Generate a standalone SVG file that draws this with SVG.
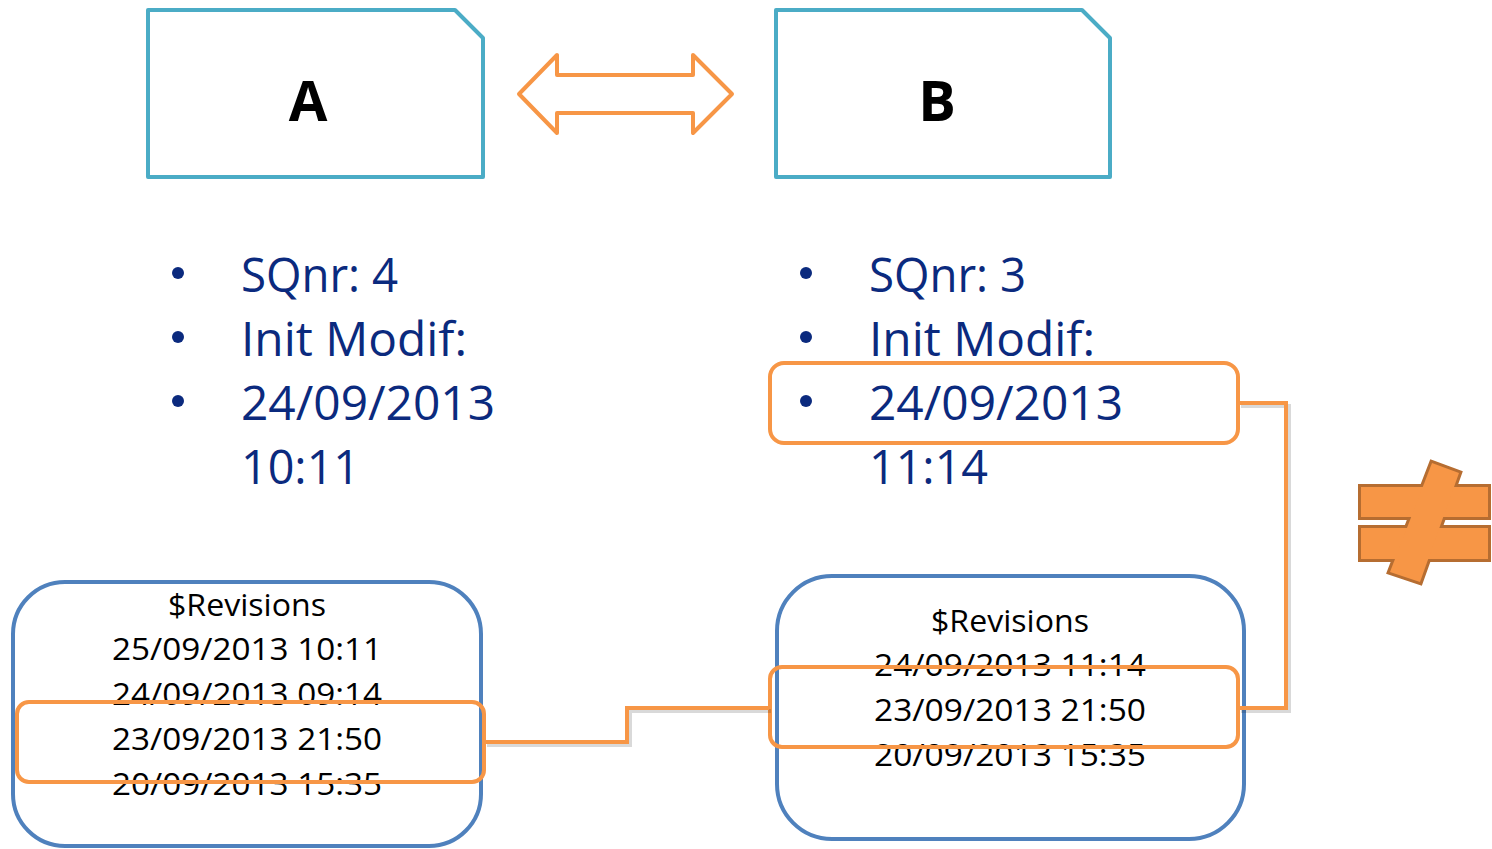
<svg xmlns="http://www.w3.org/2000/svg" width="1492" height="849" viewBox="0 0 1492 849">
<style>
.doc{fill:#fff;stroke:#4BACC6;stroke-width:4;stroke-linejoin:round}
.big{font-family:"Open Sans","Liberation Sans",sans-serif;font-weight:700;font-size:56px;fill:#000;text-anchor:middle}
.bl{font-family:"Open Sans","Liberation Sans",sans-serif;font-size:48px;fill:#0B2A7E}
.dot{fill:#0B2A7E}
.rev{fill:#fff;stroke:#4F81BD;stroke-width:4}
.rt{font-family:"Open Sans","Liberation Sans",sans-serif;font-size:31px;fill:#000;text-anchor:middle}
.hl{fill:none;stroke:#F79646;stroke-width:4}
.con{fill:none;stroke:#F79646;stroke-width:4}
.sh{fill:none;stroke:#000;stroke-opacity:0.15;stroke-width:4}
.ne-s{fill:#B66D31;stroke:#B66D31;stroke-width:6;stroke-linejoin:miter}
.ne-f{fill:#F79646}
</style>
<g id="nodeA">
<path class="doc" d="M148,10 H455 L483,38 V177 H148 Z"/>
<text class="big" x="308" y="121">A</text>
</g>
<g id="nodeB">
<path class="doc" d="M776,10 H1082 L1110,38 V177 H776 Z"/>
<text class="big" x="937" y="121">B</text>
</g>
<g id="biarrow">
<polygon points="519,94 557,55 557,75 693,75 693,55 732,94 693,133 693,113 557,113 557,133" fill="#fff" stroke="#F79646" stroke-width="4" stroke-linejoin="round"/>
</g>
<g id="listA">
<circle class="dot" cx="178" cy="273" r="6"/>
<circle class="dot" cx="178" cy="337" r="6"/>
<circle class="dot" cx="178" cy="401" r="6"/>
<text class="bl" x="241" y="292" textLength="157" lengthAdjust="spacingAndGlyphs">SQnr: 4</text>
<text class="bl" x="241" y="356" textLength="226" lengthAdjust="spacingAndGlyphs">Init Modif:</text>
<text class="bl" x="241" y="420" textLength="254" lengthAdjust="spacingAndGlyphs">24/09/2013</text>
<text class="bl" x="241" y="484" textLength="119" lengthAdjust="spacingAndGlyphs">10:11</text>
</g>
<g id="listB">
<circle class="dot" cx="806" cy="273" r="6"/>
<circle class="dot" cx="806" cy="337" r="6"/>
<circle class="dot" cx="806" cy="401" r="6"/>
<text class="bl" x="869" y="292" textLength="157" lengthAdjust="spacingAndGlyphs">SQnr: 3</text>
<text class="bl" x="869" y="356" textLength="226" lengthAdjust="spacingAndGlyphs">Init Modif:</text>
<text class="bl" x="869" y="420" textLength="254" lengthAdjust="spacingAndGlyphs">24/09/2013</text>
<text class="bl" x="869" y="484" textLength="119" lengthAdjust="spacingAndGlyphs">11:14</text>
</g>
<g id="revA">
<rect class="rev" x="13" y="582" width="468" height="264" rx="52"/>
<text class="rt" x="247" y="616" textLength="158" lengthAdjust="spacingAndGlyphs">$Revisions</text>
<text class="rt" x="247" y="660" textLength="270" lengthAdjust="spacingAndGlyphs">25/09/2013 10:11</text>
<text class="rt" x="247" y="705" textLength="270" lengthAdjust="spacingAndGlyphs">24/09/2013 09:14</text>
<text class="rt" x="247" y="750" textLength="270" lengthAdjust="spacingAndGlyphs">23/09/2013 21:50</text>
<text class="rt" x="247" y="795" textLength="270" lengthAdjust="spacingAndGlyphs">20/09/2013 15:35</text>
</g>
<g id="revB">
<rect class="rev" x="777" y="576" width="467" height="263" rx="55"/>
<text class="rt" x="1010" y="632" textLength="158" lengthAdjust="spacingAndGlyphs">$Revisions</text>
<text class="rt" x="1010" y="676" textLength="272" lengthAdjust="spacingAndGlyphs">24/09/2013 11:14</text>
<text class="rt" x="1010" y="721" textLength="272" lengthAdjust="spacingAndGlyphs">23/09/2013 21:50</text>
<text class="rt" x="1010" y="766" textLength="272" lengthAdjust="spacingAndGlyphs">20/09/2013 15:35</text>
</g>
<g id="highlights">
<rect class="hl" x="17" y="702" width="467" height="80" rx="12"/>
<rect class="hl" x="770" y="667" width="468" height="80" rx="12"/>
<rect class="hl" x="770" y="363" width="468" height="80" rx="14"/>
</g>
<g id="connectors">
<path class="sh" d="M487,745 H630 V711 H771"/>
<path class="sh" d="M1241,406 H1289 V711 H1241"/>
<path class="con" d="M485,742 H627 V708 H769"/>
<path class="con" d="M1239,403 H1286 V708 H1239"/>
</g>
<g id="notequal">
<rect class="ne-s" x="1361" y="487" width="127" height="30"/>
<rect class="ne-s" x="1361" y="528" width="127" height="31"/>
<polygon class="ne-s" points="1432,463 1459,473 1420,582 1390,572"/>
<rect class="ne-f" x="1361" y="487" width="127" height="30"/>
<rect class="ne-f" x="1361" y="528" width="127" height="31"/>
<polygon class="ne-f" points="1432,463 1459,473 1420,582 1390,572"/>
</g>
</svg>
